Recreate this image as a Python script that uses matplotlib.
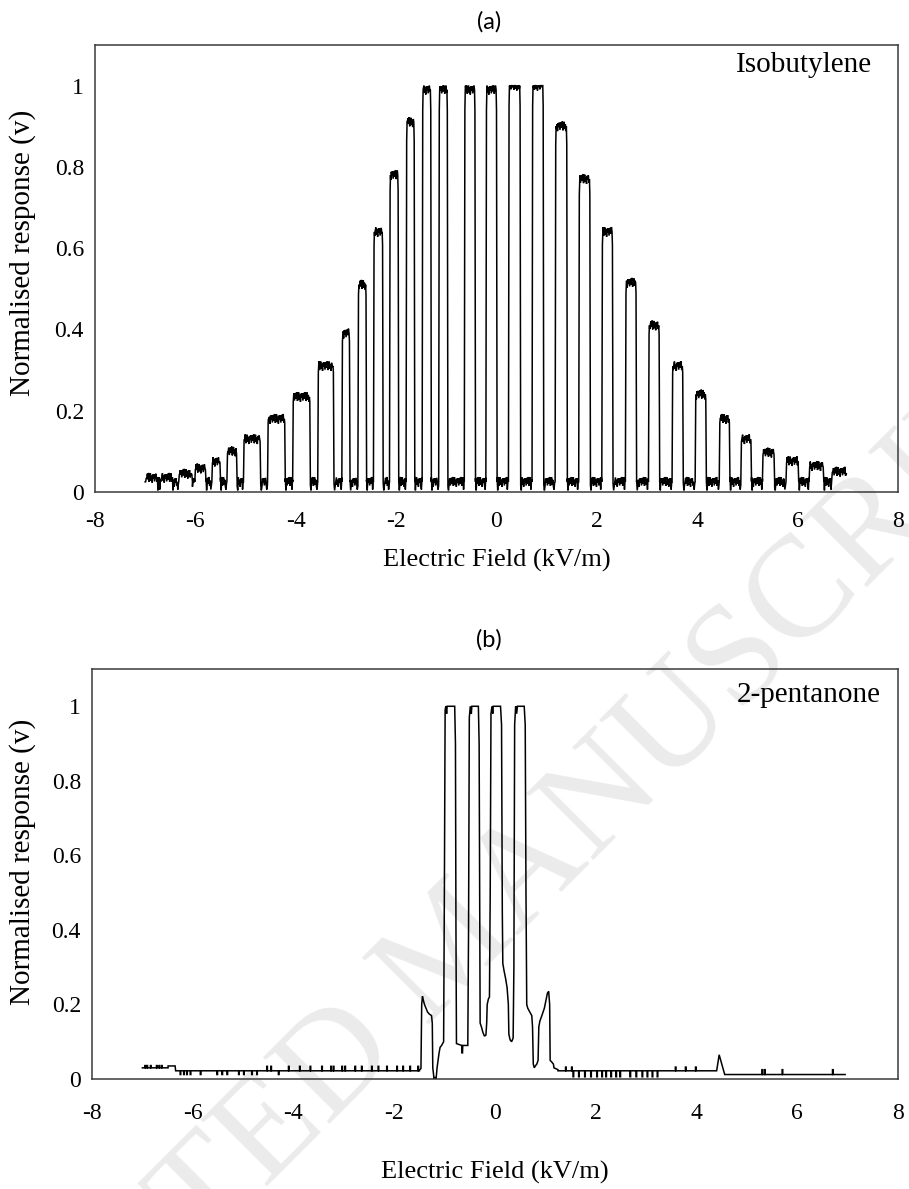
import numpy as np
import matplotlib
matplotlib.use("Agg")
import matplotlib.pyplot as plt
from matplotlib.ticker import FuncFormatter

plt.rcParams['axes.unicode_minus'] = False

# ---------------- data ----------------
# (a) Isobutylene: plateau edges (kV/m) and plateau height of each pulse
left_a = [-6.98, -6.68, -6.32, -6.00, -5.66, -5.36, -5.03, -4.55, -4.05, -3.55,
          -3.07, -2.75, -2.44, -2.12, -1.79, -1.47, -1.14, -0.63, -0.20, 0.25,
          0.72, 1.18, 1.65, 2.11, 2.58, 3.04, 3.51, 3.97, 4.45, 4.88,
          5.31, 5.78, 6.24, 6.69]
right_a = [-6.77, -6.47, -6.07, -5.80, -5.51, -5.18, -4.71, -4.22, -3.72, -3.25,
           -2.93, -2.60, -2.27, -1.96, -1.64, -1.31, -0.98, -0.43, 0.00, 0.47,
           0.93, 1.40, 1.86, 2.31, 2.78, 3.24, 3.71, 4.17, 4.64, 5.07,
           5.53, 6.01, 6.51, 6.97]
height_a = [0.035, 0.035, 0.045, 0.058, 0.075, 0.10, 0.13, 0.18, 0.234, 0.31,
            0.39, 0.51, 0.64, 0.78, 0.91, 0.99, 0.99, 0.99, 0.99, 1.0,
            1.0, 0.90, 0.77, 0.64, 0.515, 0.41, 0.31, 0.24, 0.18, 0.13,
            0.097, 0.076, 0.064, 0.05]
start_a, end_a, base_a = -7.0, 6.97, 0.025
# detector ripple seen on plateaus and baseline
ripple = [0.000, 0.010, -0.004, 0.012, -0.010, 0.003, 0.011, -0.007,
          0.005, -0.012, 0.008, -0.002, 0.009, -0.009]

# (b) 2-pentanone: central part of the trace (kV/m, response)
field_b = [-1.50, -1.47, -1.455, -1.44, -1.42, -1.40, -1.37, -1.34, -1.31, -1.26,
           -1.245, -1.235, -1.21, -1.19, -1.17, -1.15, -1.11, -1.09, -1.06, -1.02,
           -1.005, -0.99, -0.975, -0.96, -0.95, -0.80, -0.785, -0.775, -0.765, -0.66,
           -0.655, -0.645, -0.64, -0.54, -0.525, -0.51, -0.49, -0.47, -0.46, -0.33,
           -0.315, -0.30, -0.295, -0.27, -0.24, -0.21, -0.18, -0.165, -0.155, -0.13,
           -0.11, -0.095, -0.08, -0.06, -0.045, -0.035, 0.11, 0.13, 0.145, 0.155,
           0.18, 0.21, 0.24, 0.265, 0.275, 0.30, 0.33, 0.36, 0.375, 0.39,
           0.41, 0.43, 0.445, 0.58, 0.60, 0.615, 0.63, 0.65, 0.69, 0.73,
           0.745, 0.76, 0.78, 0.80, 0.83, 0.855, 0.87, 0.89, 0.93, 0.98,
           1.01, 1.04, 1.065, 1.085, 1.095, 1.13, 1.16, 1.17, 1.25]
resp_b = [0.024, 0.028, 0.20, 0.222, 0.21, 0.20, 0.19, 0.18, 0.175, 0.17,
          0.15, 0.03, 0.0, 0.005, 0.0, 0.03, 0.07, 0.085, 0.09, 0.10,
          0.5, 0.99, 1.0, 0.98, 1.0, 1.0, 0.9, 0.4, 0.095, 0.09,
          0.07, 0.07, 0.09, 0.09, 0.4, 0.97, 1.0, 0.98, 1.0, 1.0,
          0.9, 0.3, 0.15, 0.14, 0.125, 0.115, 0.118, 0.15, 0.20, 0.215,
          0.22, 0.5, 0.98, 1.0, 0.98, 1.0, 1.0, 0.95, 0.45, 0.31,
          0.29, 0.27, 0.245, 0.20, 0.12, 0.105, 0.10, 0.11, 0.3, 0.95,
          1.0, 0.98, 1.0, 1.0, 0.95, 0.5, 0.2, 0.19, 0.18, 0.17,
          0.14, 0.04, 0.03, 0.035, 0.04, 0.05, 0.14, 0.155, 0.17, 0.19,
          0.21, 0.23, 0.235, 0.2, 0.05, 0.045, 0.04, 0.03, 0.025]
# baseline either side of the central part
base_left_b = 0.022
base_right_b = 0.022
base_far_b = 0.012
spikes_up_left_b = [-6.95, -6.91, -6.84, -6.72, -6.67, -6.62, -4.53, -4.45, -4.10,
                    -3.88, -3.67, -3.44, -3.26, -3.21, -3.04, -2.98, -2.78, -2.65,
                    -2.45, -2.32, -2.15, -1.95, -1.83, -1.69, -1.53]
spikes_dn_left_b = [-6.25, -6.18, -6.12, -6.05, -5.85, -5.52, -5.42, -5.32, -5.09,
                    -4.99, -4.83, -4.73, -4.30]
bump_left_b = (-6.49, -6.35, 0.035)
spikes_dn_right_b = [1.55, 1.66, 1.78, 1.90, 2.02, 2.12, 2.20, 2.30, 2.40, 2.48,
                     2.68, 2.80, 2.92, 3.02, 3.12, 3.22]
spikes_up_right_b = [1.40, 1.52, 3.58, 3.78, 3.98, 5.30, 5.35, 5.70, 6.70]
bump_right_b = (4.40, 4.45, 4.56, 0.065)
end_b = 6.95

titles = ['(a)', '(b)']
gases = ['Isobutylene', '2-pentanone']
x_ticks = [-8, -6, -4, -2, 0, 2, 4, 6, 8]
y_ticks = [0, 0.2, 0.4, 0.6, 0.8, 1.0]


# ---------------- build traces ----------------
def ripple_segment(x0, x1, level, k0=0, dips=True):
    xs, ys = [], []
    pts = np.arange(x0, x1, 0.012)
    for i, xv in enumerate(pts):
        xs.append(xv)
        ys.append(level + ripple[(i + k0) % len(ripple)])
    if dips and len(xs) > 4:
        ys[1] = 0.004
        ys[-2] = 0.006
    return xs, ys


def trace_a():
    xs, ys = [], []
    prev = start_a
    for i, (l, r, h) in enumerate(zip(left_a, right_a, height_a)):
        bx, by = ripple_segment(prev, l - 0.012, base_a, i * 3)
        xs += bx
        ys += by
        xs += [l - 0.012, l - 0.006, l, l + 0.008]
        ys += [base_a, 0.5 * h + 0.5 * base_a, 0.95 * h, h]
        px, py = ripple_segment(l + 0.012, r - 0.012, h, i * 5, dips=False)
        xs += px
        ys += list(np.minimum(py, 1.0))
        if r >= end_a - 0.01:
            xs += [r]
            ys += [h * 0.9]
            break
        xs += [r - 0.008, r, r + 0.006, r + 0.012]
        ys += [h, 0.95 * h, 0.5 * h + 0.5 * base_a, base_a]
        prev = r + 0.012
    ys = np.clip(ys, 0.0, 1.0)
    return np.array(xs), ys


def baseline_b(x0, x1, level, ups, dns, up_lvl, dn_lvl):
    xs, ys = [x0], [level]
    events = sorted([(v, up_lvl) for v in ups if x0 < v < x1] +
                    [(v, dn_lvl) for v in dns if x0 < v < x1])
    for v, lv in events:
        xs += [v, v, v + 0.012, v + 0.012]
        ys += [level, lv, lv, level]
    xs.append(x1)
    ys.append(level)
    return xs, ys


def trace_b():
    xs, ys = [], []
    # left baseline, with small bump
    lx, ly = baseline_b(-7.0, bump_left_b[0], 0.03, spikes_up_left_b, [], 0.036, 0.02)
    xs += lx
    ys += ly
    xs += [bump_left_b[0], bump_left_b[1]]
    ys += [bump_left_b[2], bump_left_b[2]]
    lx, ly = baseline_b(bump_left_b[1] + 0.01, field_b[0], base_left_b,
                        spikes_up_left_b, spikes_dn_left_b, 0.034, 0.012)
    xs += lx
    ys += ly
    xs += field_b
    ys += resp_b
    rx, ry = baseline_b(field_b[-1], bump_right_b[0], base_right_b,
                        spikes_up_right_b, spikes_dn_right_b, 0.032, 0.006)
    xs += rx
    ys += ry
    xs += [bump_right_b[1], bump_right_b[2]]
    ys += [bump_right_b[3], base_far_b]
    rx, ry = baseline_b(bump_right_b[2], end_b, base_far_b,
                        spikes_up_right_b, [], 0.025, 0.005)
    xs += rx
    ys += ry
    return np.array(xs), np.array(ys)


# ---------------- figure ----------------
fig = plt.figure(figsize=(9.09, 11.89), dpi=100)
W, H = 909, 1189
ax_a = fig.add_axes([95 / W, 1 - 492 / H, (898 - 95) / W, (492 - 45) / H])
ax_b = fig.add_axes([92 / W, 1 - 1079 / H, (898 - 92) / W, (1079 - 669) / H])

# faint watermark behind the charts
fig.text(455 / W, 1 - 950 / H, 'ACCEPTED MANUSCRIPT', fontsize=104,
         family='Liberation Serif', color='#ebebeb', rotation=45,
         rotation_mode='anchor', ha='center', va='center', zorder=-5)

serif = 'Liberation Serif'
traces = [trace_a(), trace_b()]
title_y = [22, 640]
gas_pos = [(0.9676, 0.955), (0.978, 0.937)]
ylab_x = [-0.0735, -0.0695]
ylab_y = [0.535, 0.53]
xlab_pad = [12, 27]

for i, ax in enumerate([ax_a, ax_b]):
    ax.set_facecolor('none')
    x, y = traces[i]
    ax.plot(x, y, color='black', lw=1.1, solid_joinstyle='miter')
    ax.set_xlim(-8, 8)
    ax.set_ylim(0, 1.1)
    ax.set_xticks(x_ticks)
    ax.set_yticks(y_ticks)
    ax.yaxis.set_major_formatter(FuncFormatter(lambda v, p: '%g' % v))
    ax.xaxis.set_major_formatter(FuncFormatter(lambda v, p: '%g' % v))
    ax.tick_params(length=0, labelsize=17)
    ax.tick_params(axis='x', pad=14 if i == 0 else 17)
    ax.tick_params(axis='y', pad=8)
    for lab in ax.get_xticklabels() + ax.get_yticklabels():
        lab.set_family(serif)
    for sp in ax.spines.values():
        sp.set_color('#3a3a3a')
        sp.set_linewidth(1.1)
    ax.set_xlabel('Electric Field (kV/m)', family=serif, fontsize=19,
                  labelpad=xlab_pad[i])
    ax.set_ylabel('Normalised response (v)', family=serif, fontsize=21)
    ax.yaxis.set_label_coords(ylab_x[i], ylab_y[i])
    ax.text(gas_pos[i][0], gas_pos[i][1], gases[i], transform=ax.transAxes,
            ha='right', va='center', family=serif, fontsize=21)
    fig.text(489 / W, 1 - title_y[i] / H, titles[i], ha='center', va='center',
             family='Lato', fontsize=17)

plt.savefig('out.png', dpi=100)
